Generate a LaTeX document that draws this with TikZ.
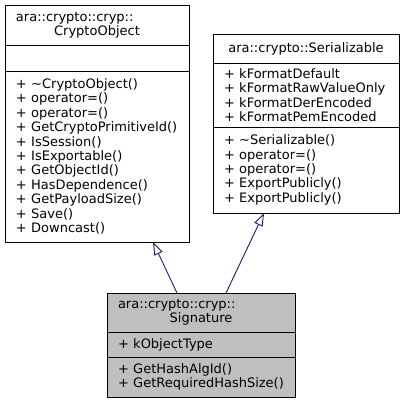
\documentclass[tikz,border=0pt]{standalone}
\usepackage{fontspec}
\setmainfont{DejaVu Sans}
\usetikzlibrary{positioning, arrows.meta}
\definecolor{edgeblue}{HTML}{191970}
\definecolor{classgray}{HTML}{BFBFBF}

\begin{document}
\begin{tikzpicture}[
        x=1pt, y=-1pt,
        part/.style={rectangle, draw=black, line width=0.9pt, fill=white, align=left, inner xsep=11pt, inner ysep=0pt,
            outer sep=0pt, font=\fontsize{13}{14.4}\selectfont},
        inherit/.style={{Triangle[open, length=13pt, width=9pt]}-, draw=edgeblue, line width=0.9pt}
    ]
        \useasboundingbox (0,0) rectangle (405,404);

        % Nodes
        \node[part, text width=162pt, minimum height=40pt, anchor=north west] (cryptoTitle) at (5,5)
            {ara::crypto::cryp::\\\makebox[\hsize]{CryptoObject}};
        \node[part, text width=162pt, minimum height=26pt, below=0pt of cryptoTitle] (cryptoAttr) {};
        \node[part, text width=162pt, minimum height=171pt, below=0pt of cryptoAttr] (cryptoOps)
            {+~\textasciitilde CryptoObject()\\+~operator=()\\+~operator=()\\+~GetCryptoPrimitiveId()\\+~IsSession()\\+~IsExportable()\\
             +~GetObjectId()\\+~HasDependence()\\+~GetPayloadSize()\\+~Save()\\+~Downcast()};

        \node[part, text width=164pt, minimum height=29pt, anchor=north west, align=center] (serialTitle) at (213,34)
            {ara::crypto::Serializable};
        \node[part, text width=164pt, minimum height=64pt, below=0pt of serialTitle] (serialAttr)
            {+~kFormatDefault\\+~kFormatRawValueOnly\\+~kFormatDerEncoded\\+~kFormatPemEncoded};
        \node[part, text width=164pt, minimum height=86pt, below=0pt of serialAttr] (serialOps)
            {+~\textasciitilde Serializable()\\+~operator=()\\+~operator=()\\+~ExportPublicly()\\+~ExportPublicly()};

        \node[part, fill=classgray, text width=166pt, minimum height=39pt, anchor=north west] (sigTitle) at (107,293)
            {ara::crypto::cryp::\\\makebox[\hsize]{Signature}};
        \node[part, fill=classgray, text width=166pt, minimum height=25pt, below=0pt of sigTitle] (sigAttr)
            {+~kObjectType};
        \node[part, fill=classgray, text width=166pt, minimum height=40pt, below=0pt of sigAttr] (sigOps)
            {+~GetHashAlgId()\\+~GetRequiredHashSize()};

        % Connectors
        \draw[inherit] ([xshift=56pt]cryptoOps.south) -- ([xshift=-24pt]sigTitle.north);
        \draw[inherit] ([xshift=-42pt]serialOps.south) -- ([xshift=25pt]sigTitle.north);
    \end{tikzpicture}
\end{document}
